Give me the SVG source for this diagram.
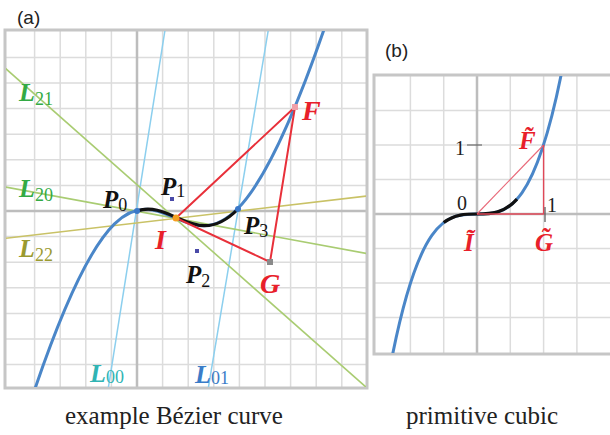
<svg xmlns="http://www.w3.org/2000/svg" width="610" height="435" viewBox="0 0 610 435">
<style>
.grid{stroke:#dcdcdc;stroke-width:1.5;fill:none}
.axis{stroke:#bdbdbd;stroke-width:2.5;fill:none}
.frame{stroke:#c6c6c6;stroke-width:3;fill:none}
.curve{stroke:#4a86c8;stroke-width:3;fill:none}
.seg{stroke:#111;stroke-width:3.2;fill:none}
.lb{stroke:#8ccfee;stroke-width:1.5}
.lg{stroke:#a9cc72;stroke-width:1.6}
.ly{stroke:#c9c266;stroke-width:1.6}
.tri{stroke:#e8303a;stroke-width:2;fill:none}
.trib{stroke:#e04858;stroke-width:1.4;fill:none}
.big{font-family:"Liberation Serif",serif;font-weight:bold;font-style:italic;font-size:25px}
.lbl{font-size:26px}
.rl{font-size:28px}
.bl{font-size:25px}
.sub{font-family:"Liberation Serif",serif;font-size:18px;font-weight:normal;font-style:normal}
.num{font-family:"Liberation Serif",serif;font-size:20px;fill:#222}
.cap{font-family:"Liberation Serif",serif;font-size:25px;fill:#222}
.pl{font-family:"Liberation Sans",Arial,sans-serif;font-size:19px;fill:#222}
.red{fill:#e8202a}
</style>
<defs>
<clipPath id="ca"><rect x="6" y="31" width="360" height="356"/></clipPath>
<clipPath id="cb"><rect x="375" y="76" width="240" height="277"/></clipPath>
</defs>
<rect width="610" height="435" fill="#fff"/>
<text class="pl" x="17" y="24">(a)</text>
<text class="pl" x="385" y="57">(b)</text>

<g id="panel-a-grid">
<path class="grid" d="M34.6 30V388M60.2 30V388M85.8 30V388M111.4 30V388M162.6 30V388M188.2 30V388M213.8 30V388M239.4 30V388M265 30V388M290.6 30V388M316.2 30V388M341.8 30V388M5 57.4H367M5 83H367M5 108.6H367M5 134.2H367M5 159.8H367M5 185.4H367M5 236.6H367M5 262.2H367M5 287.8H367M5 313.4H367M5 339H367M5 364.6H367"/>
<path class="axis" d="M137 30V388M5 211H367"/>
<rect class="frame" x="5" y="30" width="362" height="358"/>
</g>

<g id="connectors" clip-path="url(#ca)">
<line class="lb" x1="108.3" y1="388" x2="165" y2="30"/>
<line class="lb" x1="208.3" y1="388" x2="268.3" y2="30"/>
<line class="lg" x1="5" y1="187" x2="367" y2="253.5"/>
<line class="lg" x1="5" y1="68" x2="367" y2="388"/>
<line class="ly" x1="5" y1="238.3" x2="367" y2="196"/>
<path class="curve" d="M27 412.66C178 -50 171.23 495.2 334.7 -2.25"/>
<path class="seg" d="M137 211C172 199 197 251 238 209"/>
<path class="tri" d="M176 218L295 107L270 262Z"/>
</g>

<g id="points-a">
<circle cx="137" cy="211" r="3" fill="#3a78c8"/>
<circle cx="238" cy="209" r="3" fill="#3a78c8"/>
<rect x="170" y="197" width="4" height="4" fill="#4a4aa8"/>
<rect x="195" y="249" width="4" height="4" fill="#4a4aa8"/>
<circle cx="176" cy="218" r="3.5" fill="#f5a020"/>
<rect x="292" y="104" width="6" height="6" fill="#f0a0a8"/>
<rect x="267" y="259" width="6" height="6" fill="#8a8a8a"/>
</g>

<g id="label-L21"><text class="big lbl" x="19" y="101" fill="#33aa44">L<tspan class="sub" dy="4">21</tspan></text></g>
<g id="label-L20"><text class="big lbl" x="19" y="197" fill="#33aa44">L<tspan class="sub" dy="4">20</tspan></text></g>
<g id="label-L22"><text class="big lbl" x="19" y="257" fill="#9a9a30">L<tspan class="sub" dy="4">22</tspan></text></g>
<g id="label-L00"><text class="big lbl" x="90" y="382" fill="#30b4b4">L<tspan class="sub" dy="1">00</tspan></text></g>
<g id="label-L01"><text class="big lbl" x="195" y="383" fill="#3a7cc8">L<tspan class="sub" dy="1">01</tspan></text></g>
<g id="label-P0"><text class="big" x="103" y="208" fill="#111">P<tspan class="sub" dy="3">0</tspan></text></g>
<g id="label-P1"><text class="big" x="161" y="195" fill="#111">P<tspan class="sub" dy="2">1</tspan></text></g>
<g id="label-P2"><text class="big" x="186" y="283" fill="#111">P<tspan class="sub" dy="4">2</tspan></text></g>
<g id="label-P3"><text class="big" x="244" y="234" fill="#111">P<tspan class="sub" dy="3">3</tspan></text></g>
<g id="label-I"><text class="big rl red" x="155" y="249">I</text></g>
<g id="label-F"><text class="big rl red" x="302" y="120">F</text></g>
<g id="label-G"><text class="big rl red" x="260" y="293">G</text></g>

<g id="panel-b-grid">
<path class="grid" d="M410.4 75V354M443.7 75V354M510.3 75V354M543.6 75V354M576.9 75V354M374 110.5H615M374 145H615M374 179.5H615M374 248.5H615M374 283H615M374 317.5H615"/>
<path class="axis" d="M477 75V354M374 214H615"/>
<rect class="frame" x="374" y="75" width="245" height="279"/>
</g>

<g id="connectors-b" clip-path="url(#cb)">
<path class="curve" d="M387.1 383.7C447 44.3 507 383.7 566.9 44.3"/>
<path class="seg" d="M443.7 222.6C468.1 203.65 492.5 226.4 517 199.1"/>
<path d="M477 214L543.6 145" stroke="#e86878" stroke-width="1.1" fill="none"/>
<path class="trib" d="M477 214H543.6V145"/>
<path d="M545 207V222M467 145H482" stroke="#555" stroke-width="1.2"/>
</g>

<g id="labels-b">
<text class="num" x="455" y="155">1</text>
<text class="num" x="457" y="210">0</text>
<text class="num" x="547" y="212">1</text>
<g id="label-Ft"><text class="big bl red" x="519" y="149">F̃</text></g>
<g id="label-It"><text class="big bl red" x="464" y="251">Ĩ</text></g>
<g id="label-Gt"><text class="big bl red" x="535" y="251">G̃</text></g>
</g>

<text class="cap" x="65" y="424">example Bézier curve</text>
<text class="cap" x="406" y="424">primitive cubic</text>
</svg>
